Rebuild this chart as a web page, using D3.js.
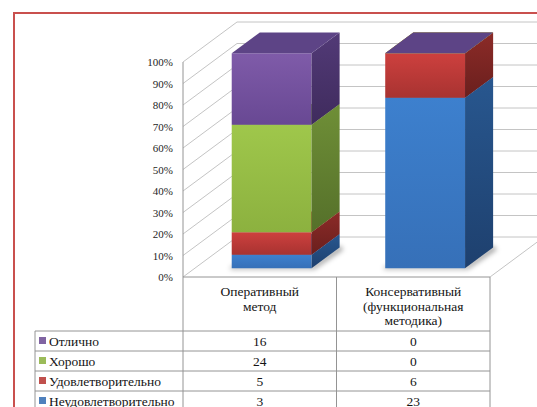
<!DOCTYPE html>
<html>
<head>
<meta charset="utf-8">
<script src="https://cdn.jsdelivr.net/npm/d3@7"></script>
<style>
  html, body { margin: 0; padding: 0; background: #fff; }
  svg { display: block; }
</style>
</head>
<body>
<svg id="chart" width="537" height="407"></svg>
<script>
// Outcome ratings by treatment method (counts), shown as 100% stacked 3D columns
const categories = [
  ["Оперативный", "метод"],
  ["Консервативный", "(функциональная", "методика)"]
];
// series listed top-to-bottom as in the data table
const seriesNames = ["Отлично", "Хорошо", "Удовлетворительно", "Неудовлетворительно"];
const excellent      = [16, 0];
const good           = [24, 0];
const satisfactory   = [5, 6];
const unsatisfactory = [3, 23];
const tickValues = [0, 0.1, 0.2, 0.3, 0.4, 0.5, 0.6, 0.7, 0.8, 0.9, 1.0];

const seriesValues = [excellent, good, satisfactory, unsatisfactory];
const FONT = "Liberation Serif";

// face colours per series: front gradient, side gradient, top
const palette = {
  "Отлично":             { f: ["#7f5ba9", "#684893"], s: ["#523a77", "#3f2b5d"], t: "#5d4486", key: "#8064a2" },
  "Хорошо":              { f: ["#9fc74b", "#8cb13f"], s: ["#6f8f37", "#55702a"], t: "#86a83e", key: "#9bbb59" },
  "Удовлетворительно":   { f: ["#cd403e", "#a83331"], s: ["#8c2b28", "#6a1f1d"], t: "#b33a37", key: "#c0504d" },
  "Неудовлетворительно": { f: ["#3d80ce", "#3670b8"], s: ["#28578f", "#1e406e"], t: "#3366a8", key: "#4f81bd" }
};

// rows for the stack generator
const rows = categories.map((c, i) => {
  const r = { idx: i };
  seriesNames.forEach((n, k) => { r[n] = seriesValues[k][i]; });
  return r;
});

const svg = d3.select("#chart");
const defs = svg.append("defs");

// frame around the chart area
svg.append("rect")
  .attr("x", 14).attr("y", 13).attr("width", 600).attr("height", 500)
  .attr("fill", "none").attr("stroke", "#c9504e").attr("stroke-width", 2);

// plot geometry
const x = d3.scaleBand().domain(d3.range(categories.length))
  .range([183, 490]).paddingInner(0.48).paddingOuter(0.24);
const y = d3.scaleLinear().domain([0, 1]).range([277, 62]);
const depth = { dx: 54, dy: -40 };
const barFront = 0.22, barBack = 0.74;

const gridColor = "#c4c4c4";

// walls: side-wall diagonals and back-wall horizontals for each tick
const walls = svg.append("g").attr("fill", "none").attr("stroke", gridColor).attr("stroke-width", 1);
tickValues.forEach(t => {
  const y0 = y(t);
  walls.append("polyline")
    .attr("points", [
      [x.range()[0], y0],
      [x.range()[0] + depth.dx, y0 + depth.dy],
      [x.range()[1] + depth.dx + 10, y0 + depth.dy]
    ].map(p => p.join(",")).join(" "));
});
// floor right edge
walls.append("line")
  .attr("x1", x.range()[1]).attr("y1", y(0))
  .attr("x2", x.range()[1] + depth.dx).attr("y2", y(0) + depth.dy);

// percentage axis (labels only)
const axis = d3.axisLeft(y).tickValues(tickValues).tickFormat(d3.format(".0%"))
  .tickSize(0).tickPadding(10);
const axG = svg.append("g").attr("transform", `translate(${x.range()[0]},0)`).call(axis);
axG.select(".domain").remove();
axG.attr("font-family", FONT).attr("font-size", 11);
axG.selectAll("text").attr("font-family", FONT).attr("font-size", 11).attr("fill", "#1e1e1e");

// stacked shares
const stackOrder = seriesNames.slice().reverse();
const stacked = d3.stack().keys(stackOrder).offset(d3.stackOffsetExpand)(rows);

// gradients
seriesNames.forEach((n, k) => {
  const p = palette[n];
  const gf = defs.append("linearGradient").attr("id", "gf" + k)
    .attr("x1", 0).attr("y1", 0).attr("x2", 0).attr("y2", 1);
  gf.append("stop").attr("offset", "0%").attr("stop-color", p.f[0]);
  gf.append("stop").attr("offset", "100%").attr("stop-color", p.f[1]);
  const gs = defs.append("linearGradient").attr("id", "gs" + k)
    .attr("x1", 0).attr("y1", 0).attr("x2", 0).attr("y2", 1);
  gs.append("stop").attr("offset", "0%").attr("stop-color", p.s[0]);
  gs.append("stop").attr("offset", "100%").attr("stop-color", p.s[1]);
});
const blur = defs.append("filter").attr("id", "shadow")
  .attr("x", "-30%").attr("y", "-30%").attr("width", "160%").attr("height", "160%");
blur.append("feGaussianBlur").attr("stdDeviation", 2.5);

const pts = arr => arr.map(p => p.join(",")).join(" ");
const fx = f => depth.dx * f, fy = f => depth.dy * f;

const bars = svg.append("g");

// soft floor shadow under each column
rows.forEach((r, i) => {
  const x0 = x(i) + fx(barFront), x1 = x0 + x.bandwidth();
  const yb = y(0) + fy(barFront);
  const ddx = fx(barBack - barFront), ddy = fy(barBack - barFront);
  bars.append("polygon")
    .attr("points", pts([[x0 - 2, yb + 1], [x1 + 3, yb + 1], [x1 + ddx + 4, yb + ddy + 2], [x1 + ddx, yb + ddy - 2], [x1, yb - 2], [x0, yb - 2]]))
    .attr("fill", "rgba(0,0,0,0.35)").attr("filter", "url(#shadow)");
});

// columns: each segment gets front, side and top faces, drawn bottom to top
stacked.forEach(layer => {
  const name = layer.key;
  const k = seriesNames.indexOf(name);
  const p = palette[name];
  layer.forEach((d, i) => {
    const x0 = x(i) + fx(barFront), x1 = x0 + x.bandwidth();
    const yTop = y(d[1]) + fy(barFront), yBot = y(d[0]) + fy(barFront);
    const ddx = fx(barBack - barFront), ddy = fy(barBack - barFront);
    const g = bars.append("g");
    if (yBot - yTop > 0.01) {
      g.append("polygon")
        .attr("points", pts([[x0, yTop], [x1, yTop], [x1, yBot], [x0, yBot]]))
        .attr("fill", `url(#gf${k})`);
      g.append("polygon")
        .attr("points", pts([[x1, yTop], [x1 + ddx, yTop + ddy], [x1 + ddx, yBot + ddy], [x1, yBot]]))
        .attr("fill", `url(#gs${k})`);
    }
    g.append("polygon")
      .attr("points", pts([[x0, yTop], [x1, yTop], [x1 + ddx, yTop + ddy], [x0 + ddx, yTop + ddy]]))
      .attr("fill", p.t);
  });
});

// data table beneath the plot
const tableColor = "#949494";
const tLeft = 35, tRight = x.range()[1];
const colX = [x.range()[0], x.range()[0] + x.step(), x.range()[1]];
const headerTop = y(0), headerBottom = 331, rowH = 20;
const tbl = svg.append("g").attr("stroke", tableColor).attr("stroke-width", 1).attr("fill", "none");
// vertical lines
tbl.append("line").attr("x1", colX[0]).attr("y1", y(1)).attr("x2", colX[0]).attr("y2", 420);
tbl.append("line").attr("x1", colX[1]).attr("y1", headerTop).attr("x2", colX[1]).attr("y2", 420);
tbl.append("line").attr("x1", colX[2]).attr("y1", headerTop).attr("x2", colX[2]).attr("y2", 420);
tbl.append("line").attr("x1", tLeft).attr("y1", headerBottom).attr("x2", tLeft).attr("y2", 420);
// horizontal lines
tbl.append("line").attr("x1", colX[0]).attr("y1", headerTop).attr("x2", colX[2]).attr("y2", headerTop);
d3.range(seriesNames.length + 1).forEach(r => {
  const yy = headerBottom + r * rowH;
  tbl.append("line").attr("x1", tLeft).attr("y1", yy).attr("x2", tRight).attr("y2", yy);
});

const txt = svg.append("g").attr("fill", "#141414");
const label = (sel) => sel.attr("font-family", FONT).attr("font-size", 13.5);
// category headers
categories.forEach((lines, i) => {
  const cx = (colX[i] + colX[i + 1]) / 2;
  lines.forEach((s, j) => {
    txt.append("text").call(label).attr("x", cx).attr("y", 296 + j * 14.5)
      .attr("text-anchor", "middle").text(s);
  });
});
// series rows with legend keys and values
seriesNames.forEach((n, r) => {
  const yc = headerBottom + r * rowH + rowH / 2;
  svg.append("rect").attr("x", 39).attr("y", yc - 4).attr("width", 7).attr("height", 7)
    .attr("fill", palette[n].key);
  txt.append("text").call(label).attr("x", 49).attr("y", yc + 4.5).text(n);
  seriesValues[r].forEach((v, i) => {
    txt.append("text").call(label).attr("x", (colX[i] + colX[i + 1]) / 2).attr("y", yc + 4.5)
      .attr("text-anchor", "middle").text(v);
  });
});
</script>
</body>
</html>
